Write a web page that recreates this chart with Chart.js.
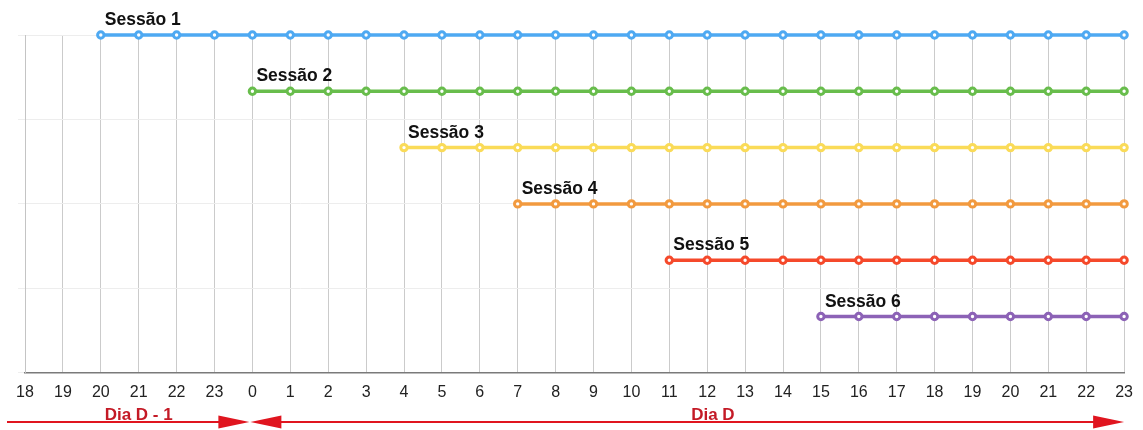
<!DOCTYPE html>
<html>
<head>
<meta charset="utf-8">
<script src="https://cdn.jsdelivr.net/npm/chart.js@4/dist/chart.umd.min.js"></script>
<style>
  html, body { margin: 0; padding: 0; background: #fff; }
  #wrap { width: 1143px; height: 430px; position: relative; }
</style>
</head>
<body>
<div id="wrap"><canvas id="sessoes"></canvas></div>
<script>
// Horas: véspera (18h-23h) e dia D (0h-23h)
const horas = ['18', '19', '20', '21', '22', '23',
  '0', '1', '2', '3', '4', '5', '6', '7', '8', '9', '10', '11',
  '12', '13', '14', '15', '16', '17', '18', '19', '20', '21', '22', '23'];

const nomesSessoes = ['Sessão 1', 'Sessão 2', 'Sessão 3', 'Sessão 4', 'Sessão 5', 'Sessão 6'];
const coresSessoes = ['#4ea9f2', '#68bd4c', '#fadb58', '#f29a3f', '#f5492b', '#8c62b6'];

// Cada sessão fica numa faixa fixa; null = sessão ainda não começou
const _ = null;
const sessao1 = [_, _, 6, 6, 6, 6, 6, 6, 6, 6, 6, 6, 6, 6, 6, 6, 6, 6, 6, 6, 6, 6, 6, 6, 6, 6, 6, 6, 6, 6];
const sessao2 = [_, _, _, _, _, _, 5, 5, 5, 5, 5, 5, 5, 5, 5, 5, 5, 5, 5, 5, 5, 5, 5, 5, 5, 5, 5, 5, 5, 5];
const sessao3 = [_, _, _, _, _, _, _, _, _, _, 4, 4, 4, 4, 4, 4, 4, 4, 4, 4, 4, 4, 4, 4, 4, 4, 4, 4, 4, 4];
const sessao4 = [_, _, _, _, _, _, _, _, _, _, _, _, _, 3, 3, 3, 3, 3, 3, 3, 3, 3, 3, 3, 3, 3, 3, 3, 3, 3];
const sessao5 = [_, _, _, _, _, _, _, _, _, _, _, _, _, _, _, _, _, 2, 2, 2, 2, 2, 2, 2, 2, 2, 2, 2, 2, 2];
const sessao6 = [_, _, _, _, _, _, _, _, _, _, _, _, _, _, _, _, _, _, _, _, _, 1, 1, 1, 1, 1, 1, 1, 1, 1];
const valoresSessoes = [sessao1, sessao2, sessao3, sessao4, sessao5, sessao6];

// Faixas de dia abaixo do eixo: índice inicial e final de cada período
const periodos = [
  { texto: 'Dia D - 1', inicio: 0, fim: 6 },
  { texto: 'Dia D', inicio: 6, fim: 29 }
];

const FONTE = '"Liberation Sans", Arial, Helvetica, sans-serif';

// Escreve o nome da sessão acima do primeiro ponto da linha
const rotulosSessoes = {
  id: 'rotulosSessoes',
  afterDatasetsDraw(chart) {
    const ctx = chart.ctx;
    ctx.save();
    ctx.font = 'bold 17.5px ' + FONTE;
    ctx.fillStyle = '#111';
    ctx.textAlign = 'left';
    ctx.textBaseline = 'alphabetic';
    chart.data.datasets.forEach((ds, i) => {
      const meta = chart.getDatasetMeta(i);
      const idx = ds.data.findIndex(v => v !== null);
      const pt = meta.data[idx];
      ctx.fillText(ds.label, pt.x + 4, pt.y - 10);
    });
    ctx.restore();
  }
};

// Setas vermelhas marcando a véspera e o dia D
const setasDias = {
  id: 'setasDias',
  afterDraw(chart) {
    const ctx = chart.ctx;
    const x = chart.scales.x;
    const y = 422;
    const ponta = 31, meia = 6.5;
    const x0 = x.getPixelForValue(periodos[0].inicio);
    const xMeio = x.getPixelForValue(periodos[0].fim) - 3;
    const xFim = x.getPixelForValue(periodos[1].fim);

    ctx.save();
    ctx.strokeStyle = '#e0151f';
    ctx.fillStyle = '#e0151f';
    ctx.lineWidth = 2;

    // linha da véspera
    ctx.beginPath();
    ctx.moveTo(x0 - 18, y);
    ctx.lineTo(xMeio - ponta + 2, y);
    ctx.stroke();
    ctx.beginPath();
    ctx.moveTo(xMeio, y);
    ctx.lineTo(xMeio - ponta, y - meia);
    ctx.lineTo(xMeio - ponta, y + meia);
    ctx.closePath();
    ctx.fill();

    // linha do dia D
    ctx.beginPath();
    ctx.moveTo(xMeio + ponta - 2, y);
    ctx.lineTo(xFim - ponta + 2, y);
    ctx.stroke();
    ctx.beginPath();
    ctx.moveTo(xMeio + 1, y);
    ctx.lineTo(xMeio + 1 + ponta, y - meia);
    ctx.lineTo(xMeio + 1 + ponta, y + meia);
    ctx.closePath();
    ctx.fill();
    ctx.beginPath();
    ctx.moveTo(xFim, y);
    ctx.lineTo(xFim - ponta, y - meia);
    ctx.lineTo(xFim - ponta, y + meia);
    ctx.closePath();
    ctx.fill();

    // textos dos períodos
    ctx.font = 'bold 17px ' + FONTE;
    ctx.fillStyle = '#c41a26';
    ctx.textAlign = 'center';
    ctx.textBaseline = 'alphabetic';
    const c1 = (x.getPixelForValue(periodos[0].inicio) + x.getPixelForValue(periodos[0].fim)) / 2;
    ctx.fillText(periodos[0].texto, c1, y - 2);
    const c2 = x.getPixelForValue(periodos[1].inicio + 12.15);
    ctx.fillText(periodos[1].texto, c2, y - 2);
    ctx.restore();
  }
};

const datasets = valoresSessoes.map((valores, i) => ({
  label: nomesSessoes[i],
  data: valores,
  borderColor: coresSessoes[i],
  backgroundColor: coresSessoes[i],
  borderWidth: 3.5,
  pointRadius: 3.2,
  pointBorderWidth: 3,
  pointBackgroundColor: '#ffffff',
  pointBorderColor: coresSessoes[i],
  tension: 0,
  spanGaps: false,
  clip: false
}));

new Chart(document.getElementById('sessoes'), {
  type: 'line',
  data: { labels: horas, datasets: datasets },
  options: {
    responsive: true,
    maintainAspectRatio: false,
    animation: false,
    layout: { padding: { left: 18, right: 15, top: 35, bottom: 18 } },
    plugins: {
      legend: { display: false },
      tooltip: { enabled: false }
    },
    scales: {
      x: {
        type: 'category',
        offset: false,
        grid: { color: '#cbcbcb', lineWidth: 1, drawTicks: false },
        border: { color: '#7a7a7a', width: 1.5 },
        ticks: {
          autoSkip: false,
          maxRotation: 0,
          padding: 10,
          color: '#222',
          font: { family: FONTE, size: 16 }
        }
      },
      y: {
        min: 0,
        max: 6,
        ticks: { display: false, stepSize: 1.5 },
        grid: { color: '#ededed', lineWidth: 1, drawTicks: true, tickLength: 7, tickColor: '#eeeeee' },
        border: { color: '#c4c4c4', width: 1 }
      }
    }
  },
  plugins: [rotulosSessoes, setasDias]
});
</script>
</body>
</html>
